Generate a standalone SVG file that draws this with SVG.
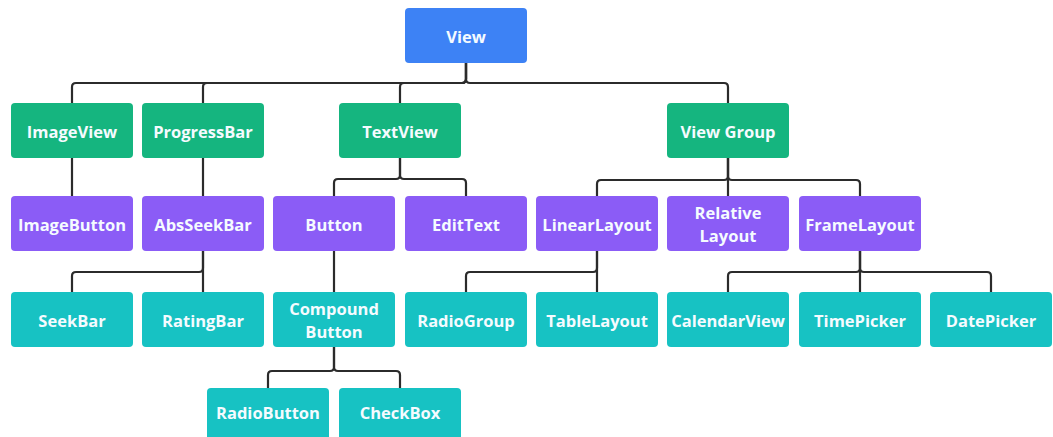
<svg xmlns="http://www.w3.org/2000/svg" width="1053" height="437" viewBox="0 0 1053 437">
<style>
.n rect{rx:4;ry:4}
.b rect{fill:#3d82f5}
.g rect{fill:#15b57f}
.p rect{fill:#8b5cf6}
.t rect{fill:#17c2c3}
text{font-family:"Open Sans","Noto Sans","Liberation Sans",sans-serif;font-weight:700;font-size:16.5px;fill:#f5fbff;text-anchor:middle;dominant-baseline:central}
.c path{fill:none;stroke:#2b2b2b;stroke-width:2.2}
</style>
<rect width="1053" height="437" fill="#ffffff"/>
<g id="connectors" class="c">
<path d="M466,63 V79 Q466,83 462,83 H76 Q72,83 72,87 V103"/>
<path d="M466,63 V79 Q466,83 462,83 H207 Q203,83 203,87 V103"/>
<path d="M466,63 V79 Q466,83 462,83 H404 Q400,83 400,87 V103"/>
<path d="M466,63 V79 Q466,83 470,83 H724 Q728,83 728,87 V103"/>
<path d="M72,158 V196"/>
<path d="M203,158 V196"/>
<path d="M400,158 V175 Q400,179 396,179 H338 Q334,179 334,183 V196"/>
<path d="M400,158 V175 Q400,179 404,179 H462 Q466,179 466,183 V196"/>
<path d="M728,158 V176 Q728,180 724,180 H601 Q597,180 597,184 V196"/>
<path d="M728,158 V196"/>
<path d="M728,158 V176 Q728,180 732,180 H856 Q860,180 860,184 V196"/>
<path d="M203,251 V268 Q203,272 199,272 H76 Q72,272 72,276 V292"/>
<path d="M203,251 V292"/>
<path d="M334,251 V292"/>
<path d="M597,251 V268 Q597,272 593,272 H470 Q466,272 466,276 V292"/>
<path d="M597,251 V292"/>
<path d="M860,251 V268 Q860,272 856,272 H732 Q728,272 728,276 V292"/>
<path d="M860,251 V292"/>
<path d="M860,251 V268 Q860,272 864,272 H987 Q991,272 991,276 V292"/>
<path d="M334,347 V367 Q334,371 330,371 H272 Q268,371 268,375 V388"/>
<path d="M334,347 V367 Q334,371 338,371 H396 Q400,371 400,375 V388"/>
</g>
<g id="view" class="n b"><rect x="405" y="8" width="122" height="55"/><text x="466" y="36">View</text></g>
<g id="imageview" class="n g"><rect x="11" y="103" width="122" height="55"/><text x="72" y="131">ImageView</text></g>
<g id="progressbar" class="n g"><rect x="142" y="103" width="122" height="55"/><text x="203" y="131">ProgressBar</text></g>
<g id="textview" class="n g"><rect x="339" y="103" width="122" height="55"/><text x="400" y="131">TextView</text></g>
<g id="viewgroup" class="n g"><rect x="667" y="103" width="122" height="55"/><text x="728" y="131">View Group</text></g>
<g id="imagebutton" class="n p"><rect x="11" y="196" width="122" height="55"/><text x="72" y="224">ImageButton</text></g>
<g id="absseekbar" class="n p"><rect x="142" y="196" width="122" height="55"/><text x="203" y="224">AbsSeekBar</text></g>
<g id="button" class="n p"><rect x="273" y="196" width="122" height="55"/><text x="334" y="224">Button</text></g>
<g id="edittext" class="n p"><rect x="405" y="196" width="122" height="55"/><text x="466" y="224">EditText</text></g>
<g id="linearlayout" class="n p"><rect x="536" y="196" width="122" height="55"/><text x="597" y="224">LinearLayout</text></g>
<g id="relativelayout" class="n p"><rect x="667" y="196" width="122" height="55"/><text x="728" y="212.5">Relative</text><text x="728" y="235">Layout</text></g>
<g id="framelayout" class="n p"><rect x="799" y="196" width="122" height="55"/><text x="860" y="224">FrameLayout</text></g>
<g id="seekbar" class="n t"><rect x="11" y="292" width="122" height="55"/><text x="72" y="320">SeekBar</text></g>
<g id="ratingbar" class="n t"><rect x="142" y="292" width="122" height="55"/><text x="203" y="320">RatingBar</text></g>
<g id="compoundbutton" class="n t"><rect x="273" y="292" width="122" height="55"/><text x="334" y="308.5">Compound</text><text x="334" y="331">Button</text></g>
<g id="radiogroup" class="n t"><rect x="405" y="292" width="122" height="55"/><text x="466" y="320">RadioGroup</text></g>
<g id="tablelayout" class="n t"><rect x="536" y="292" width="122" height="55"/><text x="597" y="320">TableLayout</text></g>
<g id="calendarview" class="n t"><rect x="667" y="292" width="122" height="55"/><text x="728" y="320">CalendarView</text></g>
<g id="timepicker" class="n t"><rect x="799" y="292" width="122" height="55"/><text x="860" y="320">TimePicker</text></g>
<g id="datepicker" class="n t"><rect x="930" y="292" width="122" height="55"/><text x="991" y="320">DatePicker</text></g>
<g id="radiobutton" class="n t"><rect x="207" y="388" width="122" height="55"/><text x="268" y="412.5">RadioButton</text></g>
<g id="checkbox" class="n t"><rect x="339" y="388" width="122" height="55"/><text x="400" y="412.5">CheckBox</text></g>
</svg>
